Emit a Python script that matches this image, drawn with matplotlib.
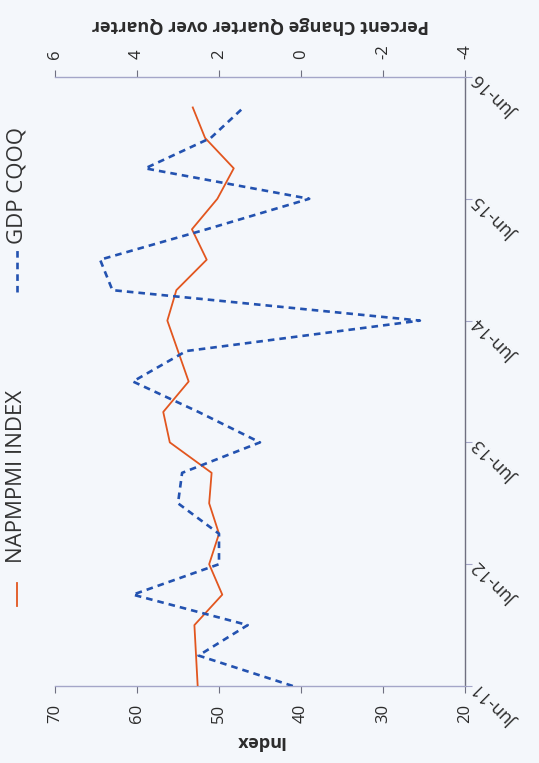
import numpy as np
import matplotlib.pyplot as plt
from matplotlib.lines import Line2D

# quarterly observations, Jun-11 .. Mar-16 (axis runs to Jun-16)
quarters = ['Jun-11', 'Sep-11', 'Dec-11', 'Mar-12', 'Jun-12', 'Sep-12', 'Dec-12',
            'Mar-13', 'Jun-13', 'Sep-13', 'Dec-13', 'Mar-14', 'Jun-14', 'Sep-14',
            'Dec-14', 'Mar-15', 'Jun-15', 'Sep-15', 'Dec-15', 'Mar-16', 'Jun-16']
napm_index = [52.6, 52.8, 53.0, 49.6, 51.2, 50.0, 51.2, 50.9, 56.0, 56.8,
              53.7, 55.0, 56.3, 55.2, 51.5, 53.3, 50.2, 48.2, 51.7, 53.2]
gdp_cqoq = [0.2, 2.5, 1.3, 4.1, 2.0, 2.0, 3.0, 2.9, 1.0, 2.5,
            4.1, 2.8, -2.9, 4.6, 4.9, 2.3, -0.2, 3.8, 2.2, 1.4]

index_ticks = [70, 60, 50, 40, 30, 20]
pct_ticks = [6, 4, 2, 0, -2, -4]

bg = '#f4f7fb'
orange = '#e2561f'
blue = '#2352b0'
axis_col = '#a4a6c8'
frame_col = '#6f7080'
txt_col = '#2b2b2b'

plt.rcParams['font.family'] = ['Open Sans', 'DejaVu Sans']

W, H = 539, 763
fig = plt.figure(figsize=(W / 100, H / 100), dpi=100, facecolor=bg)
ax = fig.add_axes([55 / W, 77 / H, 410 / W, 609 / H])
ax.set_facecolor(bg)

n = len(napm_index)
pos = np.arange(n)

# chart is laid on its side: dates run bottom->top, values right->left
ax.plot(napm_index, pos, color=orange, lw=1.3, zorder=3)
ax.set_xlim(70, 20)
ax.set_ylim(0, len(quarters) - 1)

ax2 = ax.twiny()
ax2.plot(gdp_cqoq, pos[:len(gdp_cqoq)], color=blue, lw=1.9,
         linestyle=(0, (2.5, 1.9)), zorder=3)
ax2.set_xlim(6, -4)

for s in ['left', 'top']:
    ax.spines[s].set_visible(False)
for s in ['left', 'bottom', 'right']:
    ax2.spines[s].set_visible(False)
ax.spines['bottom'].set_color(axis_col)
ax.spines['right'].set_color(frame_col)
ax2.spines['top'].set_color(axis_col)
for sp in [ax.spines['bottom'], ax.spines['right'], ax2.spines['top']]:
    sp.set_linewidth(1.0)

ax.set_xticks(index_ticks)
ax.set_xticklabels([str(v) for v in index_ticks])
ax.tick_params(axis='x', direction='out', length=5, color=frame_col,
               labelrotation=90, labelsize=12, labelcolor=txt_col, pad=8)
ax2.set_xticks(pct_ticks)
ax2.set_xticklabels([str(v) for v in pct_ticks])
ax2.tick_params(axis='x', direction='out', length=5, color=frame_col,
                labelrotation=90, labelsize=12, labelcolor=txt_col, pad=8)

ax.yaxis.tick_right()
ax.set_yticks(np.arange(0, len(quarters), 4))
ax.set_yticklabels(quarters[::4])
ax.tick_params(axis='y', direction='out', length=5, color=axis_col,
               labelsize=13, labelcolor=txt_col, pad=4)
for lab in ax.get_yticklabels():
    lab.set_rotation(135)
    lab.set_rotation_mode('anchor')
    lab.set_ha('right')
    lab.set_va('center')

ax.set_xlabel('Index', rotation=180, fontsize=13, fontweight='bold',
              color=txt_col, labelpad=6)
ax2.set_xlabel('Percent Change Quarter over Quarter', rotation=180,
               fontsize=13, fontweight='bold', color=txt_col, labelpad=10)

# legend, turned with the chart
fig.add_artist(Line2D([17 / W, 17 / W], [1 - 606 / H, 1 - 583 / H],
                      transform=fig.transFigure, color=orange, lw=1.3))
fig.text(17 / W, 1 - 476 / H, 'NAPMPMI INDEX', rotation=90, ha='center',
         va='center', fontsize=16, color='#333333')
fig.add_artist(Line2D([17 / W, 17 / W], [1 - 292 / H, 1 - 250 / H],
                      transform=fig.transFigure, color=blue, lw=1.9,
                      linestyle=(0, (2.5, 1.9))))
fig.text(17 / W, 1 - 186 / H, 'GDP CQOQ', rotation=90, ha='center',
         va='center', fontsize=16, color='#333333')

fig.savefig('out.png', dpi=100, facecolor=bg)
